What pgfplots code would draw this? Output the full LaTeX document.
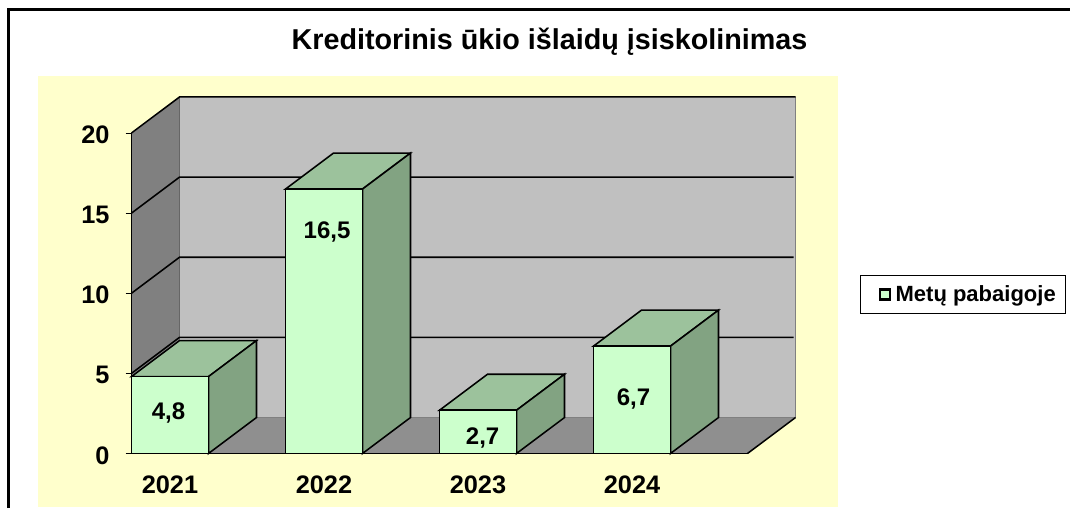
\documentclass[border=0pt]{standalone}
\usepackage{pgfplots}
\pgfplotsset{compat=1.18}
\usepackage{fontspec}
\setmainfont{Liberation Sans}
\definecolor{panel}{HTML}{FFFFCC}
\definecolor{wall}{HTML}{C0C0C0}
\definecolor{sidewall}{HTML}{808080}
\definecolor{floorc}{HTML}{8F8F8F}
\definecolor{barfront}{HTML}{CCFFCC}
\definecolor{bartop}{HTML}{9CC29C}
\definecolor{barside}{HTML}{82A382}
\begin{document}
\begin{tikzpicture}[x=0.75pt,y=-0.75pt]
\path[use as bounding box] (0,0) rectangle (1070,508);
\fill[white] (0,0) rectangle (1070,508);
\draw[line width=2.2pt] (8.5,508) -- (8.5,9.5) -- (1070,9.5);
\fill[panel] (38,76) rectangle (838,507);
\node[font=\bfseries\fontsize{21.55pt}{24pt}\selectfont] at (549.5,42) {Kreditorinis ūkio išlaidų įsiskolinimas};
\begin{axis}[
  at={(98.625pt,-340.125pt)}, anchor=south west,
  scale only axis, width=462pt, height=240.4pt,
  xmin=0, xmax=4, ymin=0, ymax=20, clip=false,
  axis on top=true,
  axis x line=bottom, axis y line=left,
  axis line style={-, line width=1.15pt, black},
  xtick={0.25,1.25,2.25,3.25},
  xticklabels={2021,2022,2023,2024},
  major x tick style={draw=none},
  extra x ticks={0,0.5,1,1.5,2,2.5,3,3.5,4},
  extra x tick labels={},
  extra x tick style={major tick length=6pt, tick style={black, line width=0.6pt}, tick align=outside},
  ytick={0,5,10,15,20},
  yticklabels={0,5,10,15,20},
  ytick style={black, line width=0.6pt},
  major tick length=4.5pt,
  tick align=outside,
  tick label style={font=\bfseries\fontsize{19pt}{21pt}\selectfont},
  xticklabel style={yshift=-9pt},
  yticklabel style={xshift=-8.5pt, yshift=-1.5pt},
  legend style={at={(1.1834,0.5575)}, anchor=north west, draw=black, line width=0.6pt,
    font=\bfseries\fontsize{16.5pt}{18pt}\selectfont, inner xsep=5pt, inner ysep=5.6pt, legend cell align=left},
  legend image code/.code={\path[draw=none,fill=none] (0,0) -- (0.67cm,0);\draw[black, fill=barfront, line width=1.7pt] (0.33cm,-0.14cm) rectangle (0.6cm,0.13cm);},
]
% walls
\addplot[sharp plot, forget plot, fill=wall, draw=none] coordinates {(0.3117,2.246)(4.3117,2.246)(4.3117,22.246)(0.3117,22.246)} -- cycle;
\addplot[sharp plot, forget plot, fill=sidewall, draw=none] coordinates {(0,0)(0.3117,2.246)(0.3117,22.246)(0,20)} -- cycle;
\addplot[sharp plot, forget plot, fill=floorc, draw=none] coordinates {(0,0)(4,0)(4.3117,2.246)(0.3117,2.246)} -- cycle;
% wall edges
\addplot[sharp plot, forget plot, draw=sidewall, line width=1.4pt] coordinates {(0.3117,2.246)(4.3117,2.246)(4.3117,22.246)};
\addplot[sharp plot, forget plot, draw=sidewall!80!black, line width=1pt] coordinates {(0.3117,2.246)(0.3117,22.246)};
\addplot[sharp plot, forget plot, draw=black, line width=1.15pt] coordinates {(0,20)(0.3117,22.246)(4.3117,22.246)};
\addplot[sharp plot, forget plot, draw=black, line width=1.15pt] coordinates {(4,0)(4.3117,2.246)};
% grid lines
\addplot[sharp plot, forget plot, draw=black, line width=1.15pt] coordinates {(0,5)(0.3117,7.246)(4.3,7.246)};
\addplot[sharp plot, forget plot, draw=black, line width=1.15pt] coordinates {(0,10)(0.3117,12.246)(4.3,12.246)};
\addplot[sharp plot, forget plot, draw=black, line width=1.15pt] coordinates {(0,15)(0.3117,17.246)(4.3,17.246)};
% bars: top and side faces
\addplot[sharp plot, forget plot, fill=bartop, draw=black, line width=1.15pt] coordinates {(0,4.8)(0.5,4.8)(0.8117,7.046)(0.3117,7.046)} -- cycle;
\addplot[sharp plot, forget plot, fill=barside, draw=black, line width=1.15pt] coordinates {(0.5,0)(0.5,4.8)(0.8117,7.046)(0.8117,2.246)} -- cycle;
\addplot[sharp plot, forget plot, fill=bartop, draw=black, line width=1.15pt] coordinates {(1,16.5)(1.5,16.5)(1.8117,18.746)(1.3117,18.746)} -- cycle;
\addplot[sharp plot, forget plot, fill=barside, draw=black, line width=1.15pt] coordinates {(1.5,0)(1.5,16.5)(1.8117,18.746)(1.8117,2.246)} -- cycle;
\addplot[sharp plot, forget plot, fill=bartop, draw=black, line width=1.15pt] coordinates {(2,2.7)(2.5,2.7)(2.8117,4.946)(2.3117,4.946)} -- cycle;
\addplot[sharp plot, forget plot, fill=barside, draw=black, line width=1.15pt] coordinates {(2.5,0)(2.5,2.7)(2.8117,4.946)(2.8117,2.246)} -- cycle;
\addplot[sharp plot, forget plot, fill=bartop, draw=black, line width=1.15pt] coordinates {(3,6.7)(3.5,6.7)(3.8117,8.946)(3.3117,8.946)} -- cycle;
\addplot[sharp plot, forget plot, fill=barside, draw=black, line width=1.15pt] coordinates {(3.5,0)(3.5,6.7)(3.8117,8.946)(3.8117,2.246)} -- cycle;
% bars: front faces
\addplot[ybar, bar width=0.5, fill=barfront, draw=black, line width=1.15pt] coordinates {(0.25,4.8)(1.25,16.5)(2.25,2.7)(3.25,6.7)};
\addlegendentry{Metų pabaigoje}
\node[font=\bfseries\fontsize{18pt}{20pt}\selectfont] at (axis cs:0.24,2.5) {4,8};
\node[font=\bfseries\fontsize{18pt}{20pt}\selectfont] at (axis cs:1.27,13.8) {16,5};
\node[font=\bfseries\fontsize{18pt}{20pt}\selectfont] at (axis cs:2.28,1.0) {2,7};
\node[font=\bfseries\fontsize{18pt}{20pt}\selectfont] at (axis cs:3.26,3.4) {6,7};
\end{axis}
\end{tikzpicture}
\end{document}
